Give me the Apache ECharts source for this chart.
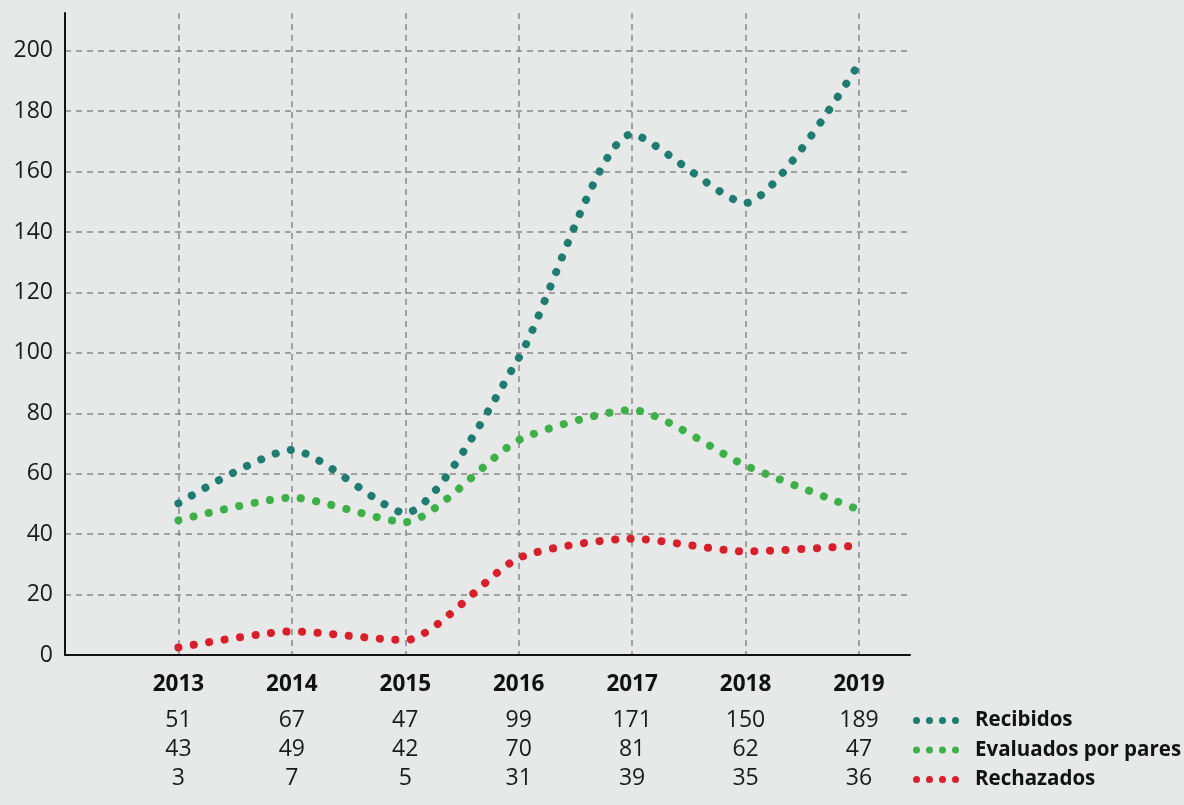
<!DOCTYPE html>
<html>
<head>
<meta charset="utf-8">
<script src="https://cdn.jsdelivr.net/npm/echarts@6/dist/echarts.min.js"></script>
<style>
html,body{margin:0;padding:0;background:#e6e9e8;}
#chart{width:1184px;height:805px;}
</style>
</head>
<body>
<div id="chart"></div>
<script>
const years = [2013, 2014, 2015, 2016, 2017, 2018, 2019];
const seriesNames = ['Recibidos', 'Evaluados por pares', 'Rechazados'];
// plotted values
const recibidosPlot = [50.2, 67.9, 47, 98.3, 172.4, 149.6, 195.8];
const evaluadosPlot = [44.6, 52.1, 44, 71.1, 81.1, 62.7, 48.1];
const rechazadosPlot = [2.5, 7.8, 4.9, 32.1, 38.5, 34.3, 36.2];
// table values (printed under the axis)
const recibidosTable = [51, 67, 47, 99, 171, 150, 189];
const evaluadosTable = [43, 49, 42, 70, 81, 62, 47];
const rechazadosTable = [3, 7, 5, 31, 39, 35, 36];
const yTicks = [0, 20, 40, 60, 80, 100, 120, 140, 160, 180, 200];

const colors = ['#1e7d70', '#3eb04a', '#d7202b'];
const FONT = '"Open Sans", sans-serif';

const chart = echarts.init(document.getElementById('chart'));

function pairs(vals) { return years.map((y, i) => [y, vals[i]]); }
function tableFormatter(vals) {
  return function (v) {
    const i = years.indexOf(v);
    return i >= 0 ? String(vals[i]) : '';
  };
}
const dotIcon = 'path://M0,3.5a3.5,3.5 0 1,0 7,0a3.5,3.5 0 1,0 -7,0z' +
  'M13,3.5a3.5,3.5 0 1,0 7,0a3.5,3.5 0 1,0 -7,0z' +
  'M26,3.5a3.5,3.5 0 1,0 7,0a3.5,3.5 0 1,0 -7,0z' +
  'M39,3.5a3.5,3.5 0 1,0 7,0a3.5,3.5 0 1,0 -7,0z';

const baseX = {
  type: 'value', min: 2012, max: 2019.45, interval: 1,
  position: 'bottom', gridIndex: 0
};
const tableAxis = (vals, offset) => Object.assign({}, baseX, {
  offset: offset,
  axisLine: { show: false }, axisTick: { show: false }, splitLine: { show: false },
  axisLabel: { formatter: tableFormatter(vals), color: '#1a1a1a', fontSize: 23, fontFamily: FONT, margin: 18 }
});

const option = {
  backgroundColor: '#e6e9e8',
  animation: false,
  grid: { left: 65, right: 274, top: 13, bottom: 150, containLabel: false },
  legend: {
    orient: 'vertical', left: 913, top: 710, itemGap: 8.5, padding: 0,
    itemWidth: 46, itemHeight: 7,
    icon: dotIcon,
    data: seriesNames,
    textStyle: { fontFamily: FONT, fontSize: 20.5, fontWeight: 'bold', color: '#111', padding: [0, 0, 0, 11] }
  },
  xAxis: [
    Object.assign({}, baseX, {
      axisLine: { show: true, onZero: false, lineStyle: { color: '#111', width: 2 } },
      axisTick: { show: false },
      splitLine: { show: true, showMinLine: false, showMaxLine: false, lineStyle: { color: '#888', type: [6, 5], width: 1.5 } },
      axisLabel: {
        formatter: v => years.indexOf(v) >= 0 ? String(v) : '',
        color: '#111', fontSize: 22.5, fontWeight: 'bold', fontFamily: FONT, margin: 18
      }
    }),
    tableAxis(recibidosTable, 36),
    tableAxis(evaluadosTable, 65),
    tableAxis(rechazadosTable, 94)
  ],
  yAxis: {
    type: 'value', min: 0, max: 212.5, interval: 20,
    axisLine: { show: true, lineStyle: { color: '#111', width: 2 } },
    axisTick: { show: false },
    splitLine: { show: true, showMinLine: false, showMaxLine: false, lineStyle: { color: '#888', type: [6, 5], width: 1.5 } },
    axisLabel: {
      formatter: v => yTicks.indexOf(v) >= 0 ? String(v) : '',
      showMaxLabel: false,
      color: '#1a1a1a', fontSize: 23, fontFamily: FONT, margin: 12
    }
  },
  series: [
    [recibidosPlot, 0], [evaluadosPlot, 1], [rechazadosPlot, 2]
  ].map(([vals, i]) => ({
    name: seriesNames[i], type: 'line', xAxisIndex: 0,
    data: pairs(vals), smooth: 0.22, showSymbol: false, symbol: 'none',
    color: colors[i],
    itemStyle: { color: colors[i] },
    lineStyle: { color: colors[i], width: 8, type: [0.1, 15.5], cap: 'round' },
    z: 3 + i
  }))
};
chart.setOption(option);
</script>
</body>
</html>
